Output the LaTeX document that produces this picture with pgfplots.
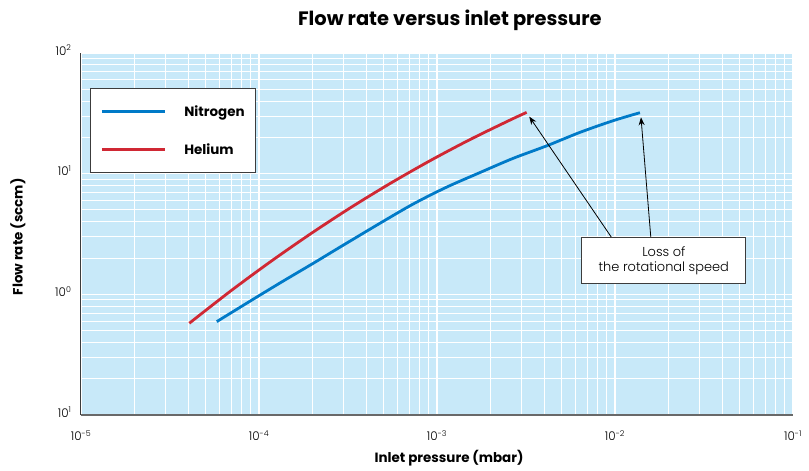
\documentclass[border=0pt]{standalone}
\usepackage{fontspec}
\setmainfont{Poppins}[UprightFont=* Light, BoldFont=* Bold]
\usepackage{pgfplots}
\pgfplotsset{compat=1.18}
\usetikzlibrary{arrows.meta}
\definecolor{bgblue}{RGB}{200,233,249}
\definecolor{nblue}{RGB}{0,122,200}
\definecolor{hred}{RGB}{208,40,52}
\definecolor{framegray}{RGB}{60,60,60}
\definecolor{axisgray}{RGB}{105,105,105}

\begin{document}
\begin{tikzpicture}
\useasboundingbox (0bp,0bp) rectangle (809bp,471bp);
\begin{axis}[
  at={(81bp,56bp)}, anchor=south west,
  width=712bp, height=362bp, scale only axis,
  xmode=log, ymode=log,
  xmin=1e-5, xmax=1e-1, ymin=1e-1, ymax=1e2,
  axis background/.style={fill=bgblue},
  axis line style={draw=none},
  grid=both,
  major grid style={white, line width=1.1bp},
  minor grid style={white, line width=1bp},
  major tick length=0pt, minor tick length=0pt,
  xtick={1e-5,1e-4,1e-3,1e-2,1e-1},
  xticklabels={10\textsuperscript{-5},10\textsuperscript{-4},10\textsuperscript{-3},10\textsuperscript{-2},10\textsuperscript{-1}},
  ytick={1e-1,1,10,100},
  yticklabels={10\textsuperscript{1},10\textsuperscript{0},10\textsuperscript{1},10\textsuperscript{2}},
  tick label style={font=\fontsize{12}{12}\selectfont},
  xticklabel style={yshift=-12bp},
  yticklabel style={xshift=-6bp, yshift=3bp},
  title={Flow rate versus inlet pressure},
  title style={at={(axis description cs:0.518,1.0744)}, anchor=center, yshift=0pt,
    font=\bfseries\fontsize{19.5}{19.5}\selectfont},
  xlabel={Inlet pressure (mbar)},
  xlabel style={at={(axis description cs:0.517,-0.119)}, anchor=center, yshift=0pt,
    font=\bfseries\fontsize{13.5}{13.5}\selectfont},
  ylabel={Flow rate (sccm)},
  ylabel style={at={(axis description cs:-0.0885,0.492)}, anchor=center, xshift=0pt,
    font=\bfseries\fontsize{13.5}{13.5}\selectfont},
  legend cell align=left,
  legend image code/.code={\draw[#1] (0bp,0bp) -- (63bp,0bp);},
  legend style={at={(0.0126,0.904)}, anchor=north west, draw=framegray, line width=1bp, fill=white,
    font=\bfseries\fontsize{13.5}{13.5}\selectfont, inner xsep=10bp, inner ysep=16bp, row sep=24bp,
    nodes={inner sep=1bp},
    /tikz/every odd column/.append style={column sep=17bp}},
  clip=false,
]
% Nitrogen
\addplot[nblue, line width=2.8bp, smooth] coordinates {
  (5.79e-5,0.594) (8.53e-5,0.844) (1.31e-4,1.24) (2.02e-4,1.81) (2.85e-4,2.46)
  (4.78e-4,3.88) (7.36e-4,5.61) (1.13e-3,7.72) (1.74e-3,10.2) (2.68e-3,13.4)
  (4.13e-3,17.0) (6.36e-3,22.0) (9.78e-3,27.5) (1.38e-2,32.0)
};
\addlegendentry{Nitrogen}
% Helium
\addplot[hred, line width=2.8bp, smooth] coordinates {
  (4.06e-5,0.576) (6.87e-5,1.055) (1.153e-4,1.852) (1.934e-4,3.147) (3.245e-4,5.19)
  (5.445e-4,8.28) (9.13e-4,12.79) (1.532e-3,19.16) (2.571e-3,27.8) (3.19e-3,32.2)
};
\addlegendentry{Helium}

% axis lines
\draw[axisgray, line width=2bp] (rel axis cs:0,0) -- (rel axis cs:1,0);
\draw[framegray, line width=1bp] (rel axis cs:0,0) -- (rel axis cs:0,1);

% annotation
\draw[-{Stealth[length=8bp,width=6bp]}, black, line width=0.8bp] (axis cs:9.58e-3,2.95) -- (axis cs:3.30e-3,29.7);
\draw[-{Stealth[length=8bp,width=6bp]}, black, line width=0.8bp] (axis cs:1.59e-2,2.95) -- (axis cs:1.40e-2,29.3);
\node[draw=framegray, line width=1bp, fill=white, minimum width=164bp, minimum height=46bp,
  align=center, font=\fontsize{13}{15}\selectfont] at (axis cs:1.88e-2,1.91)
  {Loss of\\the rotational speed};
\end{axis}
\end{tikzpicture}
\end{document}
